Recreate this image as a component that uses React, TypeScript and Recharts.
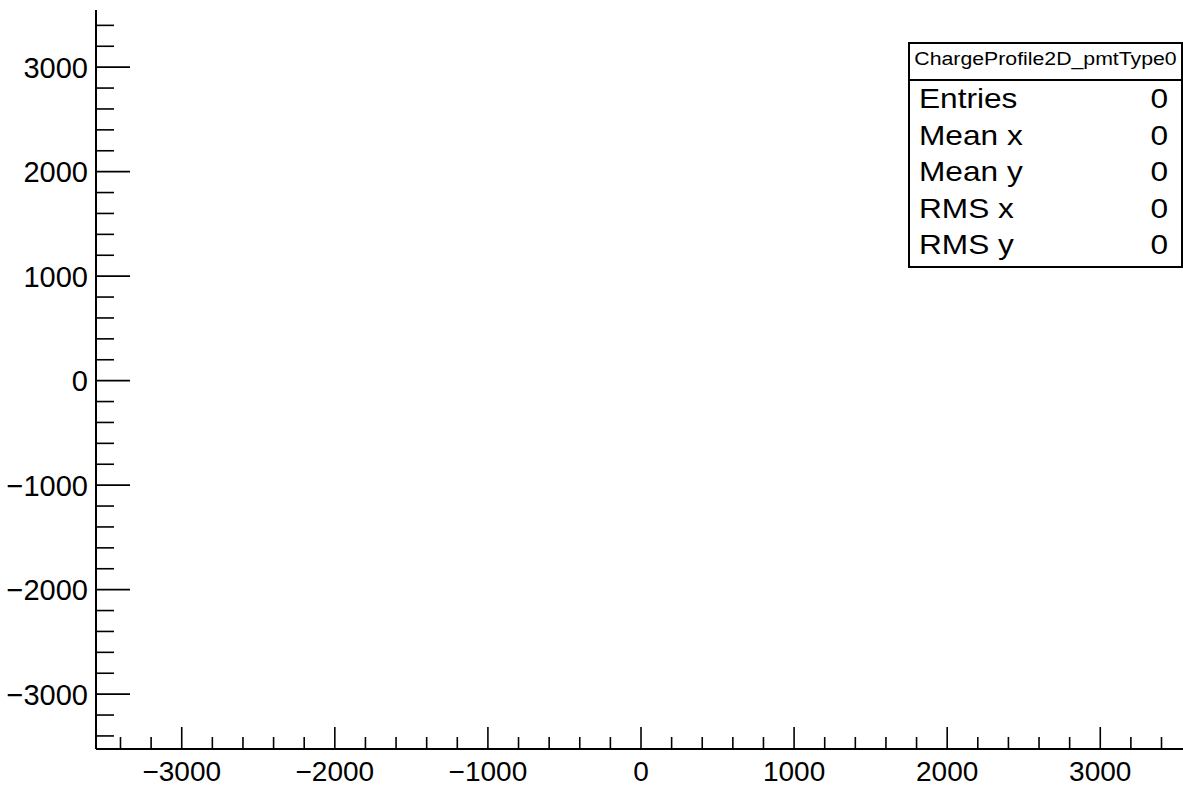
import React from "react";
import { ScatterChart, Scatter, XAxis, YAxis } from "recharts";

// Empty ROOT-style 2D profile: frame, inward ticks and a stats box.
const histName = "ChargeProfile2D_pmtType0";
const entries: { x: number; y: number }[] = [];

const statLabels = ["Entries", "Mean x", "Mean y", "RMS x", "RMS y"];
const statValues = [0, 0, 0, 0, 0];

const xDomain = [-3560, 3560];
const yDomain = [-3525, 3547];

const xTicks = [
  -3400, -3200, -3000, -2800, -2600, -2400, -2200, -2000, -1800, -1600, -1400, -1200, -1000,
  -800, -600, -400, -200, 0, 200, 400, 600, 800, 1000, 1200, 1400, 1600, 1800, 2000, 2200,
  2400, 2600, 2800, 3000, 3200, 3400,
];
const yTicks = [
  -3400, -3200, -3000, -2800, -2600, -2400, -2200, -2000, -1800, -1600, -1400, -1200, -1000,
  -800, -600, -400, -200, 0, 200, 400, 600, 800, 1000, 1200, 1400, 1600, 1800, 2000, 2200,
  2400, 2600, 2800, 3000, 3200, 3400,
];

const FONT = "'Liberation Sans', Arial, Helvetica, sans-serif";

function fmt(v: number): string {
  return v < 0 ? `\u2212${Math.abs(v)}` : String(v);
}

function YTick(props: any) {
  const { x, y, payload } = props;
  const v = payload.value as number;
  const major = v % 1000 === 0;
  return (
    <g>
      <line x1={x} x2={x + (major ? 34 : 18)} y1={y} y2={y} stroke="#000" strokeWidth={1.6} />
      {major && (
        <text x={x - 8} y={y} dy="0.36em" textAnchor="end" fontSize={29} fontFamily={FONT} fill="#000">
          {fmt(v)}
        </text>
      )}
    </g>
  );
}

function XTick(props: any) {
  const { x, y, payload } = props;
  const v = payload.value as number;
  const major = v % 1000 === 0;
  return (
    <g>
      <line x1={x} x2={x} y1={y} y2={y - (major ? 22 : 12)} stroke="#000" strokeWidth={1.6} />
      {major && (
        <text x={x} y={y + 32} textAnchor="middle" fontSize={28} fontFamily={FONT} fill="#000">
          {fmt(v)}
        </text>
      )}
    </g>
  );
}

function StatsBox() {
  const left = 909;
  const top = 43;
  const right = 1182;
  const bottom = 267;
  return (
    <svg width={1183} height={786} style={{ position: "absolute", left: 0, top: 0, pointerEvents: "none" }}>
      <rect x={left} y={top} width={right - left} height={bottom - top} fill="#fff" stroke="#000" strokeWidth={2} />
      <line x1={left} x2={right} y1={80} y2={80} stroke="#000" strokeWidth={2} />
      <text
        transform={`translate(${(left + right) / 2}, 65) scale(1.12, 1)`}
        textAnchor="middle"
        fontSize={19}
        fontFamily={FONT}
        fill="#000"
      >
        {histName}
      </text>
      {statLabels.map((label, i) => {
        const baseline = 108 + i * 36.5;
        return (
          <g key={label}>
            <text transform={`translate(919, ${baseline}) scale(1.13, 1)`} fontSize={28} fontFamily={FONT} fill="#000">
              {label}
            </text>
            <text
              transform={`translate(1168, ${baseline}) scale(1.13, 1)`}
              textAnchor="end"
              fontSize={28}
              fontFamily={FONT}
              fill="#000"
            >
              {statValues[i]}
            </text>
          </g>
        );
      })}
    </svg>
  );
}

export default function App() {
  return (
    <div
      style={{
        position: "fixed",
        left: 0,
        top: 0,
        width: 1183,
        height: 786,
        overflow: "hidden",
        background: "#fff",
      }}
    >
      <ScatterChart width={1190} height={786} margin={{ top: 10, right: 4, bottom: 0, left: 0 }}>
        <XAxis
          xAxisId="top"
          orientation="top"
          type="number"
          domain={xDomain}
          allowDataOverflow
          height={0}
          tick={false}
          tickLine={false}
          axisLine={{ stroke: "#000", strokeWidth: 2 }}
        />
        <XAxis
          dataKey="x"
          type="number"
          domain={xDomain}
          allowDataOverflow
          ticks={xTicks}
          interval={0}
          height={37}
          tickSize={0}
          tickMargin={0}
          tickLine={false}
          tick={<XTick />}
          axisLine={{ stroke: "#000", strokeWidth: 2 }}
        />
        <YAxis
          dataKey="y"
          type="number"
          domain={yDomain}
          allowDataOverflow
          ticks={yTicks}
          interval={0}
          width={96}
          tickSize={0}
          tickMargin={0}
          tickLine={false}
          tick={<YTick />}
          axisLine={{ stroke: "#000", strokeWidth: 2 }}
        />
        <Scatter data={entries} fill="#000" isAnimationActive={false} />
      </ScatterChart>
      <StatsBox />
    </div>
  );
}
